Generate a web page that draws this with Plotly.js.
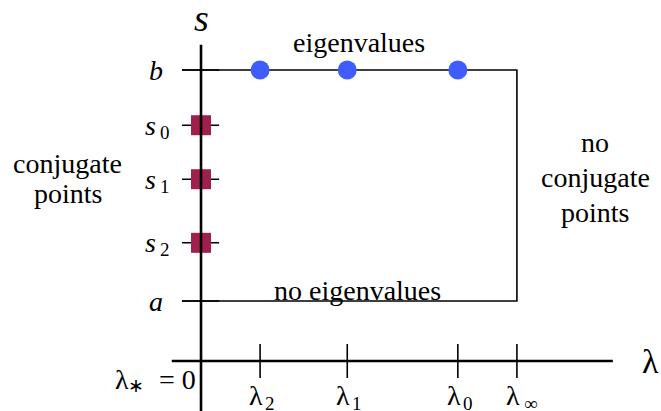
<!DOCTYPE html>
<html><head><meta charset="utf-8">
<script src="https://cdn.plot.ly/plotly-3.0.1.min.js"></script>
</head><body style="margin:0">
<div id="chart"></div>
<script>
// ---- data ----
const lambdaSubs = ['2', '1', '0', '∞'];
const lambdaValues = [1.01, 2.50, 4.39, 5.40];
const eigenLambda = [1.01, 2.50, 4.39];
const sMain = ['b', 's', 's', 's', 'a'];
const sSubs = ['', '0', '1', '2', ''];
const sValues = [4.85, 3.93, 3.03, 1.97, 1.00];
const conjugateS = [3.93, 3.03, 1.97];
const sA = 1.00, sB = 4.85, lambdaInf = 5.40;

// ---- styles ----
const serifFamily = 'Liberation Serif';
const baseSize = 28;
const subSize = 19;
const tickSpanX = [-0.325, 0.31];
const tickSpanY = [0.283, -0.283];

const traces = [];
traces.push({x: [tickSpanX[0], lambdaInf, lambdaInf, tickSpanX[0]], y: [sB, sB, sA, sA],
  mode: 'lines', line: {color: '#000', width: 1.6}, hoverinfo: 'skip'});
const tx = [], ty = [];
sValues.forEach(v => { tx.push(tickSpanX[0], tickSpanX[1], null); ty.push(v, v, null); });
traces.push({x: tx, y: ty, mode: 'lines', line: {color: '#000', width: 1.6}, hoverinfo: 'skip'});
const lx = [], ly = [];
lambdaValues.forEach(v => { lx.push(v, v, null); ly.push(tickSpanY[0], tickSpanY[1], null); });
traces.push({x: lx, y: ly, mode: 'lines', line: {color: '#000', width: 1.6}, hoverinfo: 'skip'});
traces.push({x: [-0.5, 7.04], y: [0, 0], mode: 'lines', line: {color: '#000', width: 2.6}, hoverinfo: 'skip'});
traces.push({x: conjugateS.map(() => 0), y: conjugateS, mode: 'markers',
  marker: {symbol: 'square', size: 20, color: '#9f204d'}, hoverinfo: 'skip'});
traces.push({x: [0, 0], y: [5.27, -0.9], mode: 'lines', line: {color: '#000', width: 2.6}, hoverinfo: 'skip'});
traces.push({x: eigenLambda, y: eigenLambda.map(() => sB), mode: 'markers',
  marker: {symbol: 'circle', size: 19, color: '#3f5cff'}, hoverinfo: 'skip'});

const labels = [];
function addLabel(x, y, text, opts) {
  opts = opts || {};
  labels.push({x: x, y: y, xref: 'x', yref: 'y', text: text, showarrow: false,
    xanchor: opts.xa || 'center', xshift: opts.dx || 0, yshift: opts.dy || 0,
    font: {family: serifFamily, size: opts.size || baseSize, color: '#000', style: opts.italic ? 'italic' : 'normal'}});
}
sValues.forEach((v, i) => {
  if (sSubs[i]) {
    addLabel(-0.77, v, sMain[i], {italic: true, dx: -5});
    addLabel(-0.77, v, sSubs[i], {size: subSize, dx: 9, dy: -7});
  } else {
    addLabel(-0.77, v, sMain[i], {italic: true});
  }
});
lambdaValues.forEach((v, i) => {
  addLabel(v, -0.58, 'λ', {dx: -4});
  addLabel(v, -0.58, lambdaSubs[i], {size: subSize, dx: lambdaSubs[i] === '∞' ? 14 : 10, dy: -8});
});
addLabel(-0.06, -0.3, '= 0', {xa: 'right'});
addLabel(-0.06, -0.3, 'λ', {dx: -76});
addLabel(-0.06, -0.3, '∗', {size: subSize, dx: -62, dy: -6});
addLabel(7.675, 0, 'λ', {size: 34});
addLabel(0, 5.717, 's', {size: 38, italic: true});
addLabel(2.70, 5.317, 'eigenvalues');
addLabel(2.667, 1.183, 'no eigenvalues');
addLabel(-2.274, 3.3, 'conjugate');
addLabel(-2.274, 2.8, 'points');
addLabel(6.735, 3.65, 'no');
addLabel(6.735, 3.067, 'conjugate');
addLabel(6.735, 2.483, 'points');

function forceSerif() {
  document.querySelectorAll('#chart text').forEach(t => {
    t.style.setProperty('font-family', "'" + serifFamily + "'", 'important');
  });
}

Plotly.newPlot('chart', traces, {
  width: 661, height: 411, margin: {l: 0, r: 0, t: 0, b: 0},
  showlegend: false,
  xaxis: {range: [-3.436, 7.863], visible: false},
  yaxis: {range: [-0.833, 6.017], visible: false},
  annotations: labels
}, {displayModeBar: false}).then(forceSerif);
forceSerif();
</script></body></html>
